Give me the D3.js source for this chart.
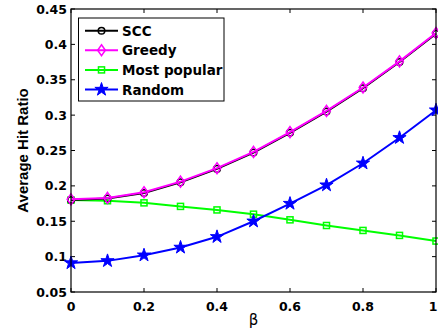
<!DOCTYPE html>
<html>
<head>
<meta charset="utf-8">
<script src="https://cdn.jsdelivr.net/npm/d3@7.9.0/dist/d3.min.js"></script>
<style>
  body { margin: 0; background: #fff; }
  svg { display: block; }
  .tick-label { font-family: "DejaVu Sans", sans-serif; font-weight: bold; font-size: 12.5px; }
</style>
</head>
<body>
<svg width="438" height="332"></svg>
<script>
const beta = [0, 0.1, 0.2, 0.3, 0.4, 0.5, 0.6, 0.7, 0.8, 0.9, 1];
const scc = [0.180, 0.182, 0.190, 0.205, 0.224, 0.247, 0.275, 0.305, 0.338, 0.375, 0.415];
const greedy = [0.181, 0.183, 0.191, 0.206, 0.225, 0.248, 0.276, 0.306, 0.339, 0.376, 0.416];
const popular = [0.180, 0.179, 0.176, 0.171, 0.166, 0.160, 0.152, 0.144, 0.137, 0.130, 0.122];
const random = [0.091, 0.094, 0.102, 0.113, 0.128, 0.150, 0.175, 0.201, 0.232, 0.268, 0.307];

const xTicks = [0, 0.2, 0.4, 0.6, 0.8, 1];
const yTicks = [0.05, 0.1, 0.15, 0.2, 0.25, 0.3, 0.35, 0.4, 0.45];
const seriesNames = ['SCC', 'Greedy', 'Most popular', 'Random'];
const seriesColors = ['#000000', '#ff00ff', '#00ff00', '#0000ff'];
const seriesMarkers = ['circle', 'diamond', 'square', 'star'];

const plotL = 71, plotR = 436, plotT = 9, plotB = 292;
const svg = d3.select('svg');

let x = d3.scaleLinear().domain([0, 1]).range([plotL, plotR]);
let y = d3.scaleLinear().domain([0.05, 0.45]).range([plotB, plotT]);

// ticks (inside, on all four sides, matlab style)
const tl = 4;
const g = svg.append('g').attr('stroke', '#000').attr('stroke-width', 1);
xTicks.forEach(t => {
  g.append('line').attr('x1', x(t)).attr('x2', x(t)).attr('y1', plotB).attr('y2', plotB - tl);
  g.append('line').attr('x1', x(t)).attr('x2', x(t)).attr('y1', plotT).attr('y2', plotT + tl);
});
yTicks.forEach(t => {
  g.append('line').attr('x1', plotL).attr('x2', plotL + tl).attr('y1', y(t)).attr('y2', y(t));
  g.append('line').attr('x1', plotR).attr('x2', plotR - tl).attr('y1', y(t)).attr('y2', y(t));
});

svg.selectAll('.xl').data(xTicks).enter().append('text')
  .attr('class', 'tick-label')
  .attr('x', d => x(d)).attr('y', 311)
  .attr('text-anchor', 'middle')
  .text(d => d3.format('')(d))
  .each(function () {
    // keep the last label inside the window
    const b = this.getBBox();
    if (b.x + b.width > 437.5) this.setAttribute('x', +this.getAttribute('x') - (b.x + b.width - 437.5));
  });

svg.selectAll('.yl').data(yTicks).enter().append('text')
  .attr('class', 'tick-label')
  .attr('x', 67).attr('y', d => y(d) + 4.5)
  .attr('text-anchor', 'end')
  .text(d => d3.format('')(d));

// axis titles
svg.append('text')
  .attr('x', (plotL + plotR) / 2).attr('y', 325)
  .attr('text-anchor', 'middle')
  .style('font-family', '"DejaVu Sans", sans-serif')
  .style('font-size', '15px')
  .text('β');

svg.append('text')
  .attr('transform', `translate(28,${(plotT + plotB) / 2}) rotate(-90)`)
  .attr('text-anchor', 'middle')
  .style('font-family', '"Liberation Sans", Arial, sans-serif')
  .style('font-weight', 'bold')
  .style('font-size', '15px')
  .text('Average Hit Ratio');

function marker(sel, type, color, size) {
  if (type === 'circle') {
    sel.append('circle').attr('r', size * 0.6).attr('fill', 'none').attr('stroke', color).attr('stroke-width', 1.5);
  } else if (type === 'diamond') {
    sel.append('path').attr('d', `M0,${-size}L${size * 0.7},0L0,${size}L${-size * 0.7},0Z`)
      .attr('fill', 'none').attr('stroke', color).attr('stroke-width', 1.5);
  } else if (type === 'square') {
    sel.append('rect').attr('x', -size * 0.55).attr('y', -size * 0.55).attr('width', size * 1.1).attr('height', size * 1.1)
      .attr('fill', 'none').attr('stroke', color).attr('stroke-width', 1.5);
  } else {
    sel.append('path').attr('d', d3.symbol(d3.symbolStar, size * size * 1.8)())
      .attr('fill', color).attr('stroke', color).attr('stroke-width', 1);
  }
}

const allSeries = [scc, greedy, popular, random];
const drawOrder = [2, 3, 0, 1];
const line = d3.line().x((d, i) => x(beta[i])).y(d => y(d));

drawOrder.forEach(k => {
  const vals = allSeries[k];
  svg.append('path').attr('d', line(vals))
    .attr('fill', 'none').attr('stroke', seriesColors[k]).attr('stroke-width', 2);
  vals.forEach((v, i) => {
    const m = svg.append('g').attr('transform', `translate(${x(beta[i])},${y(v)})`);
    marker(m, seriesMarkers[k], seriesColors[k], 5.5);
  });
});

// axes box
svg.append('rect').attr('x', plotL).attr('y', plotT).attr('width', plotR - plotL).attr('height', plotB - plotT)
  .attr('fill', 'none').attr('stroke', '#000').attr('stroke-width', 1.2);

// legend
const lg = svg.append('g');
lg.append('rect').attr('x', 78.5).attr('y', 18).attr('width', 145.5).attr('height', 83)
  .attr('fill', '#fff').attr('stroke', '#000').attr('stroke-width', 1);
seriesNames.forEach((name, k) => {
  const ry = 30.7 + k * 19.6;
  lg.append('line').attr('x1', 85).attr('x2', 118).attr('y1', ry).attr('y2', ry)
    .attr('stroke', seriesColors[k]).attr('stroke-width', 2);
  const m = lg.append('g').attr('transform', `translate(101.5,${ry})`);
  marker(m, seriesMarkers[k], seriesColors[k], 5.5);
  lg.append('text').attr('x', 122).attr('y', ry + 5)
    .style('font-family', '"DejaVu Sans", sans-serif')
    .style('font-weight', 'bold')
    .style('font-size', '13.5px')
    .text(name);
});
</script>
</body>
</html>
